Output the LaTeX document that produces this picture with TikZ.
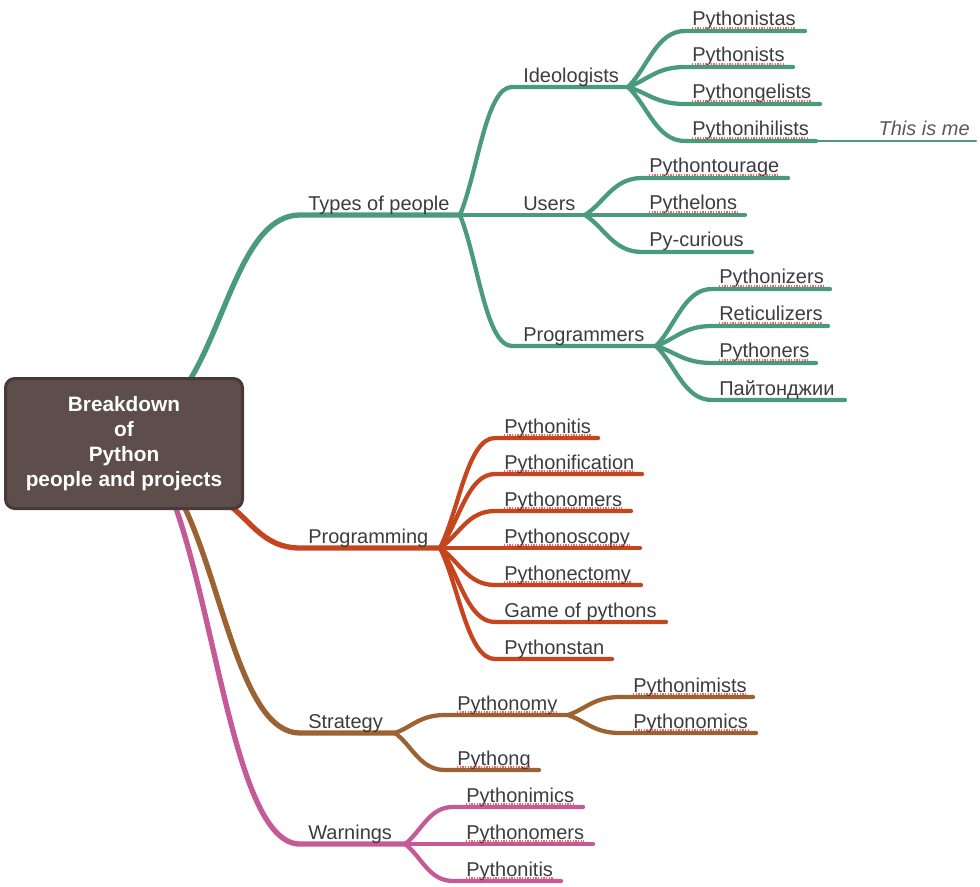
\documentclass[tikz,border=0pt]{standalone}
\usepackage{fontspec}
\setmainfont{Liberation Sans}
\usetikzlibrary{calc}
\pgfdeclarelayer{bg}
\pgfsetlayers{bg,main}

\definecolor{grn}{RGB}{74,155,125}
\definecolor{rd}{RGB}{197,70,30}
\definecolor{brn}{RGB}{155,98,50}
\definecolor{pnk}{RGB}{196,90,150}
\definecolor{txt}{RGB}{60,60,60}
\definecolor{boxfill}{RGB}{93,78,75}
\definecolor{boxline}{RGB}{74,58,55}
\definecolor{spellred}{RGB}{240,100,100}

\tikzset{
  lbl/.style={anchor=base west, inner sep=0pt, text=txt,
    font=\fontsize{15pt}{18pt}\selectfont},
  note/.style={anchor=base east, inner sep=0pt, text=txt!85,
    font=\fontsize{15pt}{18pt}\selectfont\itshape},
  rootbox/.style={draw=boxline, line width=2.25pt, fill=boxfill,
    rounded corners=7pt, minimum width=177.75pt, minimum height=97.5pt,
    align=center, text=white, inner sep=0pt,
    font=\fontsize{15.6pt}{18.6pt}\selectfont\bfseries},
  limb/.style={line width=4pt, line cap=round},
  leaf/.style={line width=3.2pt, line cap=round},
  thin/.style={line width=1.6pt, line cap=round},
  spell/.style={draw=spellred, line width=1.4pt,
    dash pattern=on 0.9pt off 1.1pt},
  twig/.style={to path={.. controls ($(\tikztostart)!#1!(\tikztotarget)$)
      and ($(\tikztotarget)!0.5!(\tikztostart|-\tikztotarget)$)
      .. (\tikztotarget) \tikztonodes}},
  twig/.default=0.35
}

\newcommand\spellmark[1]{\draw[spell] ([yshift=-1.6pt]#1.base west) -- ([yshift=-1.6pt]#1.base east);}

\begin{document}
\begin{tikzpicture}[x=0.75pt,y=-0.75pt]
\useasboundingbox (0,0) rectangle (980,887);

% central topic
\node[rootbox] (root) at (124,443.5) {Breakdown\\of\\Python\\people and projects};

% ---------- branch points ----------
\coordinate (g0) at (186,386);
\coordinate (r0) at (222,500);
\coordinate (b0) at (181,500);
\coordinate (p0) at (173,500);

\coordinate (tp-s) at (300,215);  \coordinate (tp-h) at (460,215);
\coordinate (id-s) at (512,87);   \coordinate (id-h) at (628,87);
\coordinate (us-h) at (585,215);
\coordinate (pr-s) at (512,346);  \coordinate (pr-h) at (656,346);

\coordinate (ida-s) at (685,31);  \coordinate (ida-e) at (805,31);
\coordinate (idb-s) at (685,67);  \coordinate (idb-e) at (793,67);
\coordinate (idc-s) at (685,104); \coordinate (idc-e) at (820,104);
\coordinate (idd-s) at (685,141); \coordinate (idd-e) at (816,141);
\coordinate (me-e) at (976,141);

\coordinate (usa-s) at (642,178); \coordinate (usa-e) at (788,178);
\coordinate (usb-e) at (745,215);
\coordinate (usc-s) at (642,252); \coordinate (usc-e) at (752,252);

\coordinate (pra-s) at (712,289); \coordinate (pra-e) at (830,289);
\coordinate (prb-s) at (712,326); \coordinate (prb-e) at (828,326);
\coordinate (prc-s) at (712,363); \coordinate (prc-e) at (816,363);
\coordinate (prd-s) at (712,400); \coordinate (prd-e) at (845,400);

\coordinate (pg-s) at (300,548);  \coordinate (pg-h) at (440,548);
\coordinate (pga-s) at (495,438); \coordinate (pga-e) at (598,438);
\coordinate (pgb-s) at (495,474); \coordinate (pgb-e) at (642,474);
\coordinate (pgc-s) at (495,511); \coordinate (pgc-e) at (631,511);
\coordinate (pgd-e) at (640,548);
\coordinate (pge-s) at (495,585); \coordinate (pge-e) at (641,585);
\coordinate (pgf-s) at (495,622); \coordinate (pgf-e) at (666,622);
\coordinate (pgg-s) at (495,659); \coordinate (pgg-e) at (612,659);

\coordinate (st-s) at (300,733);  \coordinate (st-h) at (395,733);
\coordinate (sy-s) at (445,715);  \coordinate (sy-h) at (568,715);
\coordinate (sya-s) at (620,697); \coordinate (sya-e) at (753,697);
\coordinate (syb-s) at (620,733); \coordinate (syb-e) at (756,733);
\coordinate (sg-s) at (445,770);  \coordinate (sg-e) at (539,770);

\coordinate (wa-s) at (300,844);  \coordinate (wa-h) at (405,844);
\coordinate (waa-s) at (453,807); \coordinate (waa-e) at (583,807);
\coordinate (wab-e) at (593,844);
\coordinate (wac-s) at (453,881); \coordinate (wac-e) at (561,881);

% ---------- connectors ----------
\begin{pgfonlayer}{bg}
  % types of people
  \draw[limb, grn] (g0) to[twig] (tp-s) -- (tp-h);
  \draw[leaf, grn] (tp-h) to[twig] (id-s) -- (id-h);
  \draw[leaf, grn] (tp-h) -- (us-h);
  \draw[leaf, grn] (tp-h) to[twig] (pr-s) -- (pr-h);
  \draw[leaf, grn] (id-h) to[twig] (ida-s) -- (ida-e);
  \draw[leaf, grn] (id-h) to[twig] (idb-s) -- (idb-e);
  \draw[leaf, grn] (id-h) to[twig] (idc-s) -- (idc-e);
  \draw[leaf, grn] (id-h) to[twig] (idd-s) -- (idd-e);
  \draw[thin, grn] (idd-e) -- (me-e);
  \draw[leaf, grn] (us-h) to[twig] (usa-s) -- (usa-e);
  \draw[leaf, grn] (us-h) -- (usb-e);
  \draw[leaf, grn] (us-h) to[twig] (usc-s) -- (usc-e);
  \draw[leaf, grn] (pr-h) to[twig] (pra-s) -- (pra-e);
  \draw[leaf, grn] (pr-h) to[twig] (prb-s) -- (prb-e);
  \draw[leaf, grn] (pr-h) to[twig] (prc-s) -- (prc-e);
  \draw[leaf, grn] (pr-h) to[twig] (prd-s) -- (prd-e);
  % programming
  \draw[limb, rd] (r0) to[twig] (pg-s) -- (pg-h);
  \draw[leaf, rd] (pg-h) to[twig] (pga-s) -- (pga-e);
  \draw[leaf, rd] (pg-h) to[twig] (pgb-s) -- (pgb-e);
  \draw[leaf, rd] (pg-h) to[twig] (pgc-s) -- (pgc-e);
  \draw[leaf, rd] (pg-h) -- (pgd-e);
  \draw[leaf, rd] (pg-h) to[twig] (pge-s) -- (pge-e);
  \draw[leaf, rd] (pg-h) to[twig] (pgf-s) -- (pgf-e);
  \draw[leaf, rd] (pg-h) to[twig] (pgg-s) -- (pgg-e);
  % strategy
  \draw[limb, brn] (b0) to[twig] (st-s) -- (st-h);
  \draw[leaf, brn] (st-h) to[twig] (sy-s) -- (sy-h);
  \draw[leaf, brn] (sy-h) to[twig] (sya-s) -- (sya-e);
  \draw[leaf, brn] (sy-h) to[twig] (syb-s) -- (syb-e);
  \draw[leaf, brn] (st-h) to[twig] (sg-s) -- (sg-e);
  % warnings
  \draw[limb, pnk] (p0) to[twig] (wa-s) -- (wa-h);
  \draw[leaf, pnk] (wa-h) to[twig] (waa-s) -- (waa-e);
  \draw[leaf, pnk] (wa-h) -- (wab-e);
  \draw[leaf, pnk] (wa-h) to[twig] (wac-s) -- (wac-e);
\end{pgfonlayer}

% ---------- labels ----------
\node[lbl] (types) at (308,211) {Types of people};
\node[lbl] (ideo)  at (523,83)  {Ideologists};
\node[lbl] (users) at (523,211) {Users};
\node[lbl] (progr) at (523,342) {Programmers};

\node[lbl] (ida) at (692,26)  {Pythonistas};
\node[lbl] (idb) at (692,62)  {Pythonists};
\node[lbl] (idc) at (692,99)  {Pythongelists};
\node[lbl] (idd) at (692,136) {Pythonihilists};
\node[note] (me) at (970,136) {This is me};

\node[lbl] (usa) at (649,173) {Pythontourage};
\node[lbl] (usb) at (649,210) {Pythelons};
\node[lbl] (usc) at (649,247) {Py-curious};

\node[lbl] (pra) at (719,284) {Pythonizers};
\node[lbl] (prb) at (719,321) {Reticulizers};
\node[lbl] (prc) at (719,358) {Pythoners};
\node[lbl] (prd) at (719,395) {Пайтонджии};

\node[lbl] (progm) at (308,543) {Programming};
\node[lbl] (pga) at (504,433) {Pythonitis};
\node[lbl] (pgb) at (504,469) {Pythonification};
\node[lbl] (pgc) at (504,506) {Pythonomers};
\node[lbl] (pgd) at (504,543) {Pythonoscopy};
\node[lbl] (pge) at (504,580) {Pythonectomy};
\node[lbl] (pgf) at (504,617) {Game of pythons};
\node[lbl] (pgg) at (504,654) {Pythonstan};

\node[lbl] (strat) at (308,728) {Strategy};
\node[lbl] (sy)  at (457,710) {Pythonomy};
\node[lbl] (sya) at (633,692) {Pythonimists};
\node[lbl] (syb) at (633,728) {Pythonomics};
\node[lbl] (sg)  at (457,765) {Pythong};

\node[lbl] (warn) at (308,839) {Warnings};
\node[lbl] (waa) at (466,802) {Pythonimics};
\node[lbl] (wab) at (466,839) {Pythonomers};
\node[lbl] (wac) at (466,876) {Pythonitis};

% spell-check underlines
\foreach \n in {ida,idb,idc,idd,usa,usb,pra,prb,prc,pga,pgb,pgc,pgd,pge,sy,sya,syb,sg,waa,wab,wac}{
  \spellmark{\n}
}
\end{tikzpicture}
\end{document}
